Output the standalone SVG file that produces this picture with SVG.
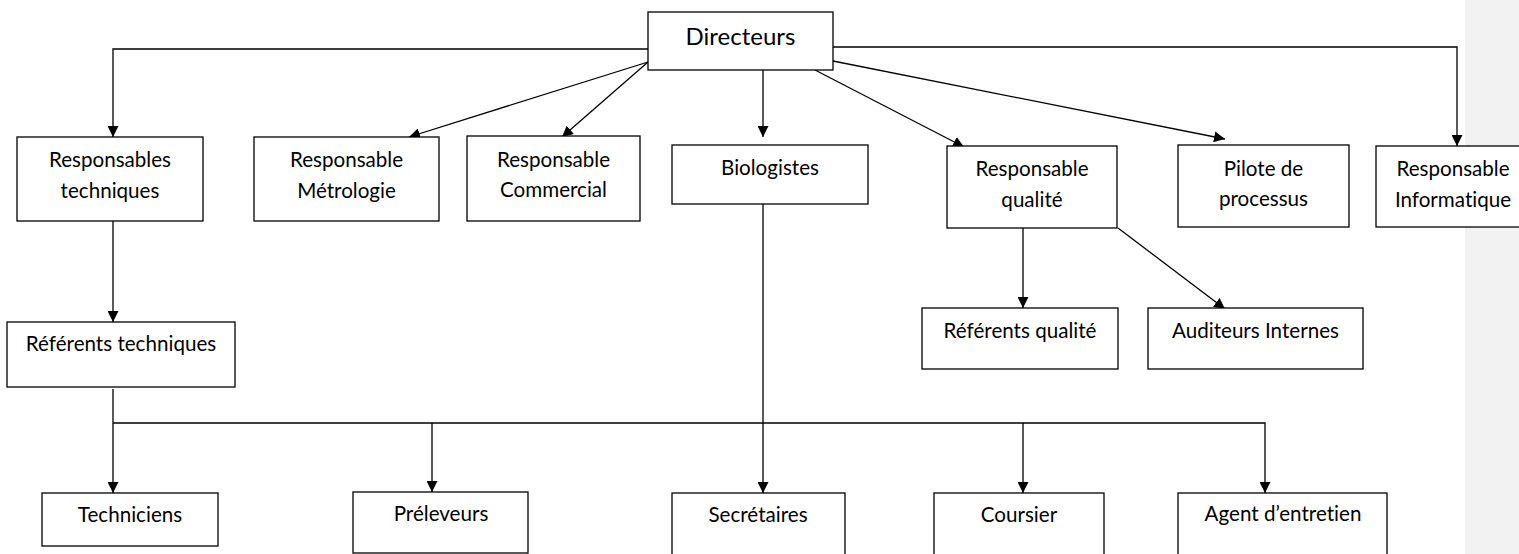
<svg xmlns="http://www.w3.org/2000/svg" width="1519" height="554" viewBox="0 0 1519 554">
<style>
.box{fill:#fff;stroke:#000;stroke-width:1.3}
.t{font-family:Lato,"Liberation Sans",sans-serif;font-size:20.6px;fill:#000;text-anchor:middle;font-variant-ligatures:none;font-feature-settings:"liga" 0}
.big{font-size:24px}
.c{fill:none;stroke:#000;stroke-width:1.3}
</style>
<defs>
<marker id="ah" markerUnits="userSpaceOnUse" markerWidth="11" markerHeight="11" refX="10" refY="5" orient="auto" viewBox="0 0 10 10">
<path d="M0,0 L10,5 L0,10 z" fill="#000"/>
</marker>
</defs>
<rect x="1465" y="0" width="54" height="554" fill="#f2f2f2"/>
<g id="connectors">
<path class="c" d="M648,49 H113 V137" marker-end="url(#ah)"/>
<path class="c" d="M833,47 H1457 V146" marker-end="url(#ah)"/>
<path class="c" d="M648,62 L409,137" marker-end="url(#ah)"/>
<path class="c" d="M648,62 L562,137" marker-end="url(#ah)"/>
<path class="c" d="M763,70 V137" marker-end="url(#ah)"/>
<path class="c" d="M815,70 L964,147" marker-end="url(#ah)"/>
<path class="c" d="M833,61 L1225,139" marker-end="url(#ah)"/>
<path class="c" d="M763,203 V493" marker-end="url(#ah)"/>
<path class="c" d="M113,221 V322" marker-end="url(#ah)"/>
<path class="c" d="M113,389 V493" marker-end="url(#ah)"/>
<path class="c" d="M113,423 H1265 V493" marker-end="url(#ah)"/>
<path class="c" d="M432,423 V492" marker-end="url(#ah)"/>
<path class="c" d="M1023,423 V493" marker-end="url(#ah)"/>
<path class="c" d="M1023,228 V308" marker-end="url(#ah)"/>
<path class="c" d="M1118,228 L1225,309" marker-end="url(#ah)"/>
</g>
<g id="directeurs"><rect class="box" x="648" y="12" width="185" height="58"/><text class="t big" x="740.5" y="45">Directeurs</text></g>
<g id="resp-techniques"><rect class="box" x="17" y="137" width="186" height="84"/><text class="t" x="110" y="167">Responsables</text><text class="t" x="110" y="198">techniques</text></g>
<g id="resp-metrologie"><rect class="box" x="254" y="137" width="185" height="84"/><text class="t" x="346.5" y="167">Responsable</text><text class="t" x="346.5" y="198">Métrologie</text></g>
<g id="resp-commercial"><rect class="box" x="467" y="136" width="173" height="85"/><text class="t" x="553.5" y="167">Responsable</text><text class="t" x="553.5" y="197">Commercial</text></g>
<g id="biologistes"><rect class="box" x="672" y="145" width="196" height="59"/><text class="t" x="770" y="175">Biologistes</text></g>
<g id="resp-qualite"><rect class="box" x="947" y="146" width="170" height="82"/><text class="t" x="1032" y="176">Responsable</text><text class="t" x="1032" y="207">qualité</text></g>
<g id="pilote"><rect class="box" x="1178" y="145" width="171" height="82"/><text class="t" x="1263.5" y="176">Pilote de</text><text class="t" x="1263.5" y="206">processus</text></g>
<g id="resp-informatique"><rect class="box" x="1376" y="146" width="160" height="81"/><text class="t" x="1453" y="176">Responsable</text><text class="t" x="1453" y="207">Informatique</text></g>
<g id="referents-techniques"><rect class="box" x="7" y="322" width="228" height="65"/><text class="t" x="121" y="351">Référents techniques</text></g>
<g id="referents-qualite"><rect class="box" x="922" y="308" width="196" height="61"/><text class="t" x="1020" y="338">Référents qualité</text></g>
<g id="auditeurs"><rect class="box" x="1148" y="308" width="215" height="61"/><text class="t" x="1255.5" y="338">Auditeurs Internes</text></g>
<g id="techniciens"><rect class="box" x="42" y="493" width="176" height="53"/><text class="t" x="130" y="522">Techniciens</text></g>
<g id="preleveurs"><rect class="box" x="353" y="492" width="175" height="61"/><text class="t" x="441" y="521">Préleveurs</text></g>
<g id="secretaires"><rect class="box" x="672" y="493" width="173" height="75"/><text class="t" x="758" y="522">Secrétaires</text></g>
<g id="coursier"><rect class="box" x="934" y="493" width="170" height="75"/><text class="t" x="1019" y="522">Coursier</text></g>
<g id="agent"><rect class="box" x="1178" y="493" width="209" height="75"/><text class="t" x="1283" y="521">Agent d’entretien</text></g>
</svg>
